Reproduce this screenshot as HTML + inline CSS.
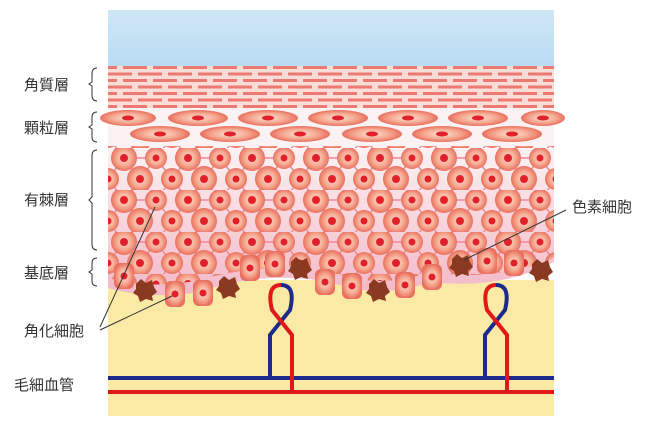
<!DOCTYPE html>
<html><head><meta charset="utf-8"><style>
body{margin:0;background:#fff;width:660px;height:426px;overflow:hidden}
svg{display:block}
text{font-family:"Liberation Sans","Noto Sans CJK JP",sans-serif;font-size:15px;fill:#333}
</style></head><body>
<svg width="660" height="426" viewBox="0 0 660 426">
<defs>
<radialGradient id="cg"><stop offset="0" stop-color="#fde3d6"/><stop offset="0.6" stop-color="#f6a890"/><stop offset="1" stop-color="#e8705e"/></radialGradient>
<linearGradient id="sky" x1="0" y1="0" x2="0" y2="1"><stop offset="0" stop-color="#cfe6f6"/><stop offset="1" stop-color="#b9dcf3"/></linearGradient>
<linearGradient id="sp" x1="0" y1="0" x2="0" y2="1"><stop offset="0" stop-color="#fdf2f3"/><stop offset="1" stop-color="#f3b8c8"/></linearGradient>
<pattern id="cor" width="60" height="13" patternUnits="userSpaceOnUse">
<rect width="60" height="13" fill="#fbdcd6"/>
<rect x="3" y="1" width="24" height="3" fill="#ea7a72"/><rect x="33" y="1" width="24" height="3" fill="#ea7a72"/>
<rect x="18" y="7.5" width="24" height="3" fill="#ea7a72"/><rect x="48" y="7.5" width="12" height="3" fill="#ea7a72"/><rect x="0" y="7.5" width="12" height="3" fill="#ea7a72"/>
</pattern>
<pattern id="spn" width="64" height="42" patternUnits="userSpaceOnUse" x="108" y="148">
<path d="M16 10L48 10M16 10L0 31M16 10L32 31M48 10L32 31M48 10L64 31M0 31L16 52M32 31L16 52M32 31L48 52M64 31L48 52" stroke="#ec8a9a" stroke-width="1.5" fill="none"/>
<circle cx="16" cy="10" r="13" fill="url(#cg)"/><circle cx="48" cy="10" r="11" fill="url(#cg)"/>
<circle cx="0" cy="31" r="11" fill="url(#cg)"/><circle cx="32" cy="31" r="13" fill="url(#cg)"/><circle cx="64" cy="31" r="11" fill="url(#cg)"/>
<circle cx="16" cy="10" r="4" fill="#e0202a"/><circle cx="48" cy="10" r="3.5" fill="#e0202a"/>
<circle cx="0" cy="31" r="3.5" fill="#e0202a"/><circle cx="32" cy="31" r="4" fill="#e0202a"/><circle cx="64" cy="31" r="3.5" fill="#e0202a"/>
</pattern>
<g id="mel"><path d="M-9 -6 L-4 -11 L1 -7 L7 -10 L9 -3 L12 2 L7 6 L8 11 L1 9 L-5 12 L-7 6 L-12 3 L-9 -1Z" fill="#8b3a22"/></g>
<g id="bc"><rect x="-10" y="-13" width="20" height="26" rx="6" fill="url(#cg)"/><circle r="3.5" fill="#e0202a"/></g>
</defs>
<rect x="108" y="10" width="446" height="56" fill="url(#sky)"/>
<rect x="108" y="280" width="446" height="136" fill="#fbeaa6"/>
<rect x="108" y="66" width="446" height="42" fill="url(#cor)"/>
<rect x="108" y="108" width="446" height="40" fill="#fbf3f3"/>
<path d="M108 146 H554 V262 Q500 290 430 282 Q380 300 330 282 Q260 270 200 292 Q150 300 108 288Z" fill="url(#sp)"/>
<path d="M108 146 H554 V258 Q500 282 430 272 Q380 290 330 272 Q260 262 200 280 Q150 290 108 278Z" fill="url(#spn)"/>
<g fill="url(#cg)">
<ellipse cx="128" cy="118" rx="28" ry="8"/><ellipse cx="198" cy="118" rx="30" ry="8"/><ellipse cx="268" cy="118" rx="30" ry="8"/><ellipse cx="338" cy="118" rx="30" ry="8"/><ellipse cx="408" cy="118" rx="30" ry="8"/><ellipse cx="478" cy="118" rx="30" ry="8"/><ellipse cx="543" cy="118" rx="22" ry="8"/>
<ellipse cx="160" cy="134" rx="30" ry="8"/><ellipse cx="230" cy="134" rx="30" ry="8"/><ellipse cx="300" cy="134" rx="30" ry="8"/><ellipse cx="372" cy="134" rx="30" ry="8"/><ellipse cx="442" cy="134" rx="30" ry="8"/><ellipse cx="512" cy="134" rx="30" ry="8"/>
</g>
<g fill="#e0202a">
<ellipse cx="128" cy="118" rx="6" ry="2.5"/><ellipse cx="198" cy="118" rx="6" ry="2.5"/><ellipse cx="268" cy="118" rx="6" ry="2.5"/><ellipse cx="338" cy="118" rx="6" ry="2.5"/><ellipse cx="408" cy="118" rx="6" ry="2.5"/><ellipse cx="478" cy="118" rx="6" ry="2.5"/><ellipse cx="543" cy="118" rx="6" ry="2.5"/>
<ellipse cx="160" cy="134" rx="6" ry="2.5"/><ellipse cx="230" cy="134" rx="6" ry="2.5"/><ellipse cx="300" cy="134" rx="6" ry="2.5"/><ellipse cx="372" cy="134" rx="6" ry="2.5"/><ellipse cx="442" cy="134" rx="6" ry="2.5"/><ellipse cx="512" cy="134" rx="6" ry="2.5"/>
</g>
<use href="#bc" x="124" y="276"/><use href="#bc" x="175" y="294"/><use href="#bc" x="203" y="293"/><use href="#bc" x="250" y="268"/><use href="#bc" x="275" y="264"/><use href="#bc" x="325" y="282"/><use href="#bc" x="352" y="286"/><use href="#bc" x="405" y="285"/><use href="#bc" x="432" y="277"/><use href="#bc" x="487" y="261"/><use href="#bc" x="514" y="263"/>
<use href="#mel" x="145" y="290"/><use href="#mel" x="228" y="287"/><use href="#mel" x="300" y="268"/><use href="#mel" x="378" y="290"/><use href="#mel" x="461" y="265"/><use href="#mel" x="541" y="270"/>
<g fill="none" stroke-width="4">
<path d="M108 378 H554" stroke="#1c2a8c"/>
<path d="M108 392 H554" stroke="#e01818"/>
<path d="M270 378 V335 L290 310 Q296 285 281 285" stroke="#1c2a8c"/>
<path d="M292 392 V335 L272 310 Q266 285 281 285" stroke="#e01818"/>
<path d="M485 378 V335 L505 310 Q511 285 496 285" stroke="#1c2a8c"/>
<path d="M507 392 V335 L487 310 Q481 285 496 285" stroke="#e01818"/>
</g>
<g stroke="#333" stroke-width="1" fill="none">
<path d="M100 327 L155 207"/><path d="M100 330 L172 296"/><path d="M566 210 L464 260"/>
<path d="M97 68 Q92 68 92 74 V82 L89 84 L92 86 V95 Q92 101 97 101"/>
<path d="M97 112 Q92 112 92 117 V125 L89 127 L92 129 V137 Q92 142 97 142"/>
<path d="M97 150 Q92 150 92 156 V197 L89 200 L92 203 V244 Q92 250 97 250"/>
<path d="M97 258 Q92 258 92 263 V270 L89 272 L92 274 V281 Q92 286 97 286"/>
</g>
<text x="24" y="90">角質層</text>
<text x="24" y="133">顆粒層</text>
<text x="24" y="205">有棘層</text>
<text x="24" y="278">基底層</text>
<text x="24" y="336">角化細胞</text>
<text x="14" y="390">毛細血管</text>
<text x="572" y="212">色素細胞</text>
</svg>
</body></html>
